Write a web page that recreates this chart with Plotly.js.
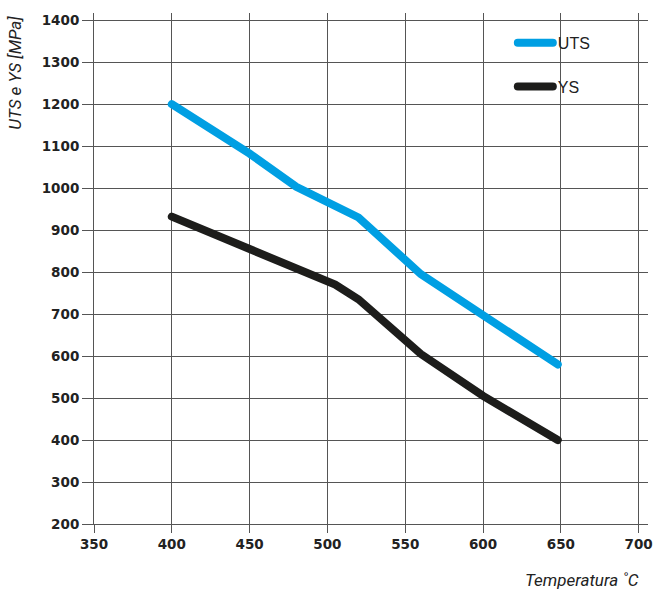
<!DOCTYPE html>
<html>
<head>
<meta charset="utf-8">
<script src="https://cdn.plot.ly/plotly-3.0.1.min.js"></script>
<style>
  html, body { margin: 0; padding: 0; background: #fff; }
  #chart { width: 655px; height: 595px; }
  #chart .scatterlayer .js-line, #chart .legend .js-line { stroke-linecap: round; }
</style>
</head>
<body>
<div id="chart"></div>
<script>
// Data
const utsTemp = [400, 450, 480, 520, 560, 607, 648];
const utsVals = [1200, 1082, 1003, 930, 795, 683, 580];

const ysTemp = [400, 450, 485, 505, 520, 560, 600, 648];
const ysVals = [932, 855, 800, 770, 735, 605, 505, 400];

const xTickStart = 350, xTickStep = 50;
const yTickStart = 200, yTickStep = 100;

const seriesNames = ['UTS', 'YS'];
const seriesColors = ['#009fe3', '#1d1d1b'];

const traces = [
  {
    x: utsTemp, y: utsVals, name: seriesNames[0], type: 'scatter', mode: 'lines',
    line: { color: seriesColors[0], width: 8 }, legendgroup: 'a'
  },
  {
    x: ysTemp, y: ysVals, name: seriesNames[1], type: 'scatter', mode: 'lines',
    line: { color: seriesColors[1], width: 8 }, legendgroup: 'b'
  }
];

const tickFont = { family: '"DejaVu Sans", sans-serif', size: 13.5, color: '#222', weight: 'bold' };

const layout = {
  width: 655, height: 595,
  margin: { l: 94, r: 7, t: 13, b: 71 },
  showlegend: true,
  legend: {
    x: 0.756, y: 0.975, xanchor: 'left', yanchor: 'top',
    bgcolor: 'rgba(0,0,0,0)',
    font: { family: '"Liberation Sans", Arial, sans-serif', size: 16, color: '#222' },
    itemwidth: 35, traceorder: 'grouped', tracegroupgap: 20
  },
  xaxis: {
    range: [350, 706], tickmode: 'linear', tick0: xTickStart, dtick: xTickStep,
    showgrid: true, gridcolor: '#555555',
    showline: true, linecolor: '#555555',
    ticks: 'outside', ticklen: 8, tickcolor: '#555555',
    tickfont: tickFont, zeroline: false
  },
  yaxis: {
    range: [200, 1417], tickmode: 'linear', tick0: yTickStart, dtick: yTickStep,
    showgrid: true, gridcolor: '#555555',
    showline: true, linecolor: '#555555',
    ticks: 'outside', ticklen: 11, tickcolor: '#555555',
    tickfont: tickFont, zeroline: false
  },
  annotations: [
    {
      text: 'UTS e YS [MPa]', textangle: -90, showarrow: false,
      xref: 'paper', yref: 'paper', x: -0.143, y: 0.8826,
      xanchor: 'center', yanchor: 'middle',
      font: { family: 'Roboto, "Liberation Sans", sans-serif', size: 17, color: '#222', style: 'italic' }
    },
    {
      text: 'Temperatura ˚C', showarrow: false,
      xref: 'paper', yref: 'paper', x: 0.987, y: -0.11,
      xanchor: 'right', yanchor: 'middle',
      font: { family: 'Roboto, "Liberation Sans", sans-serif', size: 17, color: '#222', style: 'italic' }
    }
  ]
};

Plotly.newPlot('chart', traces, layout, { displayModeBar: false });
</script>
</body>
</html>
